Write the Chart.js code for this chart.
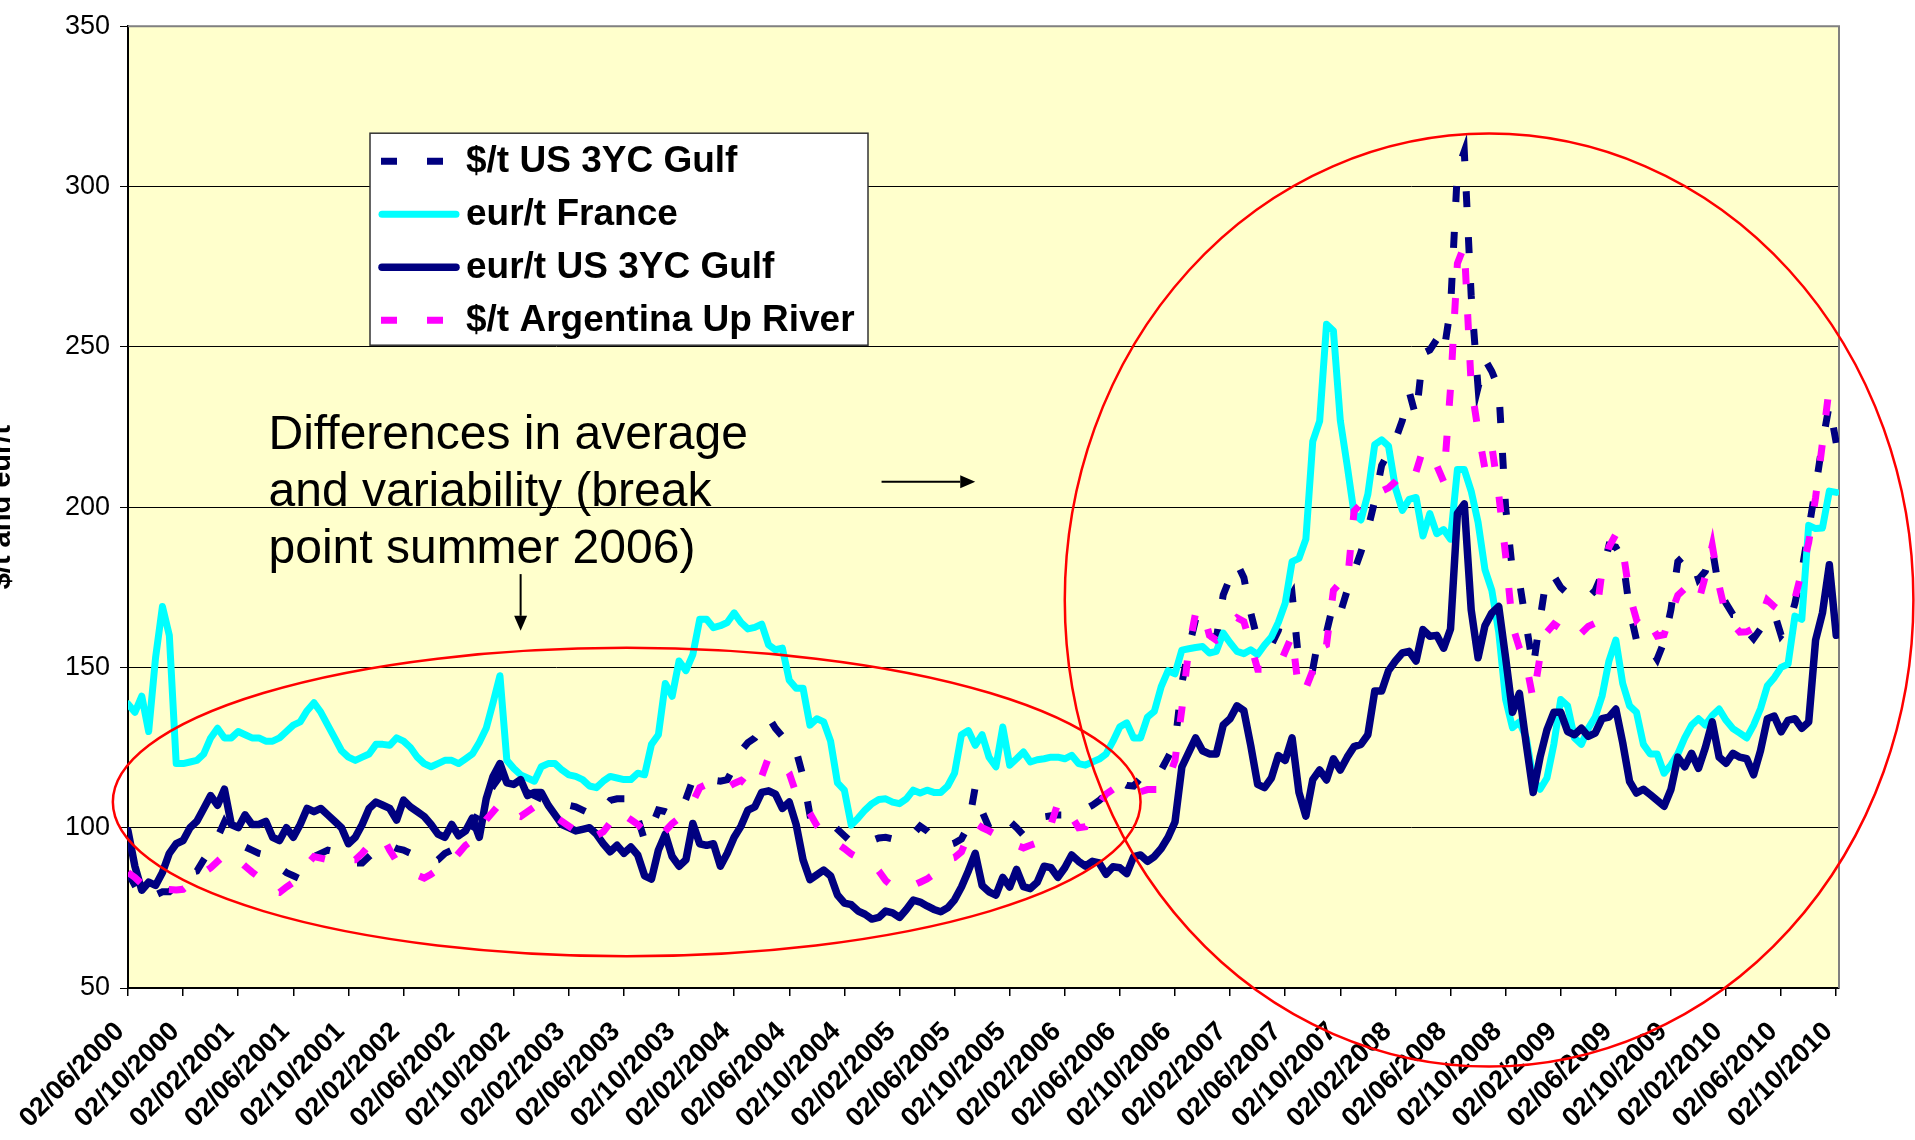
<!DOCTYPE html>
<html>
<head>
<meta charset="utf-8">
<script src="https://cdn.jsdelivr.net/npm/chart.js@4.4.1/dist/chart.umd.min.js"></script>
<style>
  html, body { margin: 0; padding: 0; background: #fff; overflow: hidden; }
  canvas { display: block; }
</style>
</head>
<body>
<canvas id="priceChart" width="1915" height="1140"></canvas>
<script>
// x = months since 02/06/2000, one reading every half month
const STEP = 0.5;

const tickLabels = [
  '02/06/2000', '02/10/2000', '02/02/2001', '02/06/2001', '02/10/2001', '02/02/2002',
  '02/06/2002', '02/10/2002', '02/02/2003', '02/06/2003', '02/10/2003', '02/02/2004',
  '02/06/2004', '02/10/2004', '02/02/2005', '02/06/2005', '02/10/2005', '02/02/2006',
  '02/06/2006', '02/10/2006', '02/02/2007', '02/06/2007', '02/10/2007', '02/02/2008',
  '02/06/2008', '02/10/2008', '02/02/2009', '02/06/2009', '02/10/2009', '02/02/2010',
  '02/06/2010', '02/10/2010'
];

const seriesNames = ['$/t US 3YC Gulf', 'eur/t France', 'eur/t US 3YC Gulf', '$/t Argentina Up River'];

const usGulfUsd = [
  86, 82, 78, 78, 79, 80, 80, 82,
  84, 86, 86.5, 90, 93, 97, 101.8, 98,
  95, 94, 93, 92, 91.5, 89, 87.5, 86,
  85, 84, 87, 91, 92, 93, 92.5, 91,
  90, 89, 89, 91, 93, 95, 94.5, 93.5,
  93, 92, 91, 90, 89.5, 90, 92, 93,
  94, 97, 101, 105, 109, 113, 116, 114,
  113, 112, 111, 110, 109, 108.6, 108, 107.5,
  107, 106.5, 105.5, 104.5, 104, 106, 108.5, 109,
  109, 109, 103, 96, 100, 105.5, 105, 104,
  104, 109, 115, 115, 115, 114.8, 114.5, 115,
  119, 124, 126.5, 128, 131, 134.4, 131, 128.5,
  128.5, 124, 116, 104, 104.3, 104, 101.5, 99.5,
  97.5, 95.5, 94.8, 95.5, 96, 96.8, 97, 96.5,
  96, 95.6, 98, 100.5, 99, 97, 95, 94.5,
  95.2, 96.5, 100.5, 112.7, 105, 100, 102.5, 104,
  102, 100, 97.7, 99.5, 101.5, 103.4, 103.7, 104,
  104, 104.5, 105, 105.8, 107, 108.5, 110.5, 112.5,
  114.3, 113.2, 113, 115.5, 115.2, 114.9, 118, 122,
  126.2, 145, 156, 165, 166, 160, 158.9, 172.6,
  178, 182.5, 178, 167, 158.5, 156.5, 157, 161.5,
  169.5, 173, 151.2, 150.6, 149.4, 161, 161, 170,
  167, 174, 180, 186, 193, 202, 213, 217,
  221, 227, 236, 228, 248, 249, 252.3, 248,
  262, 305, 311, 266, 237.3, 246, 242.3, 237,
  200, 180, 176.8, 163.2, 150, 165, 179, 178.5,
  175, 173, 172.3, 171.8, 171.8, 174, 179, 188,
  187.5, 184, 168, 158.5, 159, 156, 152.6, 158,
  168, 183, 185, 184, 177.5, 180, 187, 174.2,
  170, 166.5, 166.5, 161.5, 159, 162, 164.5, 167,
  160, 162.5, 170, 180, 193, 206, 220, 232,
  220
];

const franceEur = [
  138.6, 136, 141, 130, 153, 169, 160, 120,
  120, 120.5, 121, 123, 128, 131, 128, 128,
  130, 129, 128, 128, 127, 127, 128, 130,
  132, 133, 136.5, 139, 136, 132, 128, 124,
  122, 121, 122, 123, 126, 126, 125.7, 128,
  127, 125, 122, 120, 119, 120, 121, 121,
  120, 121.5, 123, 126.6, 131, 139, 147.4, 121,
  118.5, 116.5, 115.5, 114.5, 119, 120, 120, 118,
  116.5, 116, 115, 113, 112.5, 114.5, 116, 115.5,
  115, 115, 117, 116.5, 126, 129, 145, 141,
  152, 149, 154, 165, 165, 162.4, 163, 164,
  167, 164, 162, 162.5, 163.5, 157, 155.5, 156,
  146, 143.5, 143.5, 132, 134, 133, 127, 114,
  111.7, 100.8, 103, 105.5, 107.5, 108.8, 109, 108,
  107.5, 109, 111.7, 110.8, 111.7, 111, 111, 113,
  117, 129, 130.3, 125.7, 129, 122, 119, 131.4,
  119.5, 121.5, 123.6, 120.5, 121.2, 121.5, 122, 122,
  121.5, 122.6, 120, 119.5, 120.5, 121.4, 123, 127,
  131.5, 132.7, 128, 128, 134.5, 136.3, 144, 149,
  148, 155.4, 155.8, 156.2, 156.5, 154.5, 155, 160.7,
  157.7, 155, 154.3, 155.5, 154, 157, 159.5, 164,
  170, 183, 184, 190, 220.5, 226.8, 257, 255,
  227, 213, 198, 196, 204, 219.5, 221, 219,
  206, 199, 202.4, 203, 191, 198, 191.7, 193,
  190, 211.7, 211.7, 205, 195.3, 180.5, 174, 161,
  140, 131.2, 133, 128, 115, 112, 115.5, 126,
  140, 138, 128, 126, 131, 134.5, 141, 152,
  158.5, 145, 138, 136, 126, 123, 123, 117,
  119.6, 123, 128, 132, 134, 132, 135, 137,
  133.5, 130.9, 129.5, 128, 132, 137.1, 144.3, 146.8,
  150, 151, 166, 165, 194.3, 193.3, 193.5, 205,
  204.6
];

const usGulfEur = [
  99, 88, 80.5, 83, 82, 86, 92, 95,
  96, 100, 102, 106, 110, 107, 112, 101,
  100, 104, 101, 101, 102, 97, 96, 100,
  97, 101, 106, 105, 106, 104, 102, 100,
  95, 97, 101, 106, 108, 107, 106, 102.4,
  108.6, 106.5, 105, 103.5, 101, 98, 97, 101,
  97.5, 99, 103, 97, 109, 116, 120, 114,
  113.5, 115, 110, 111, 111, 107, 104, 101,
  100, 99, 99.5, 100, 98, 95, 92.5, 94.5,
  92, 94, 91.5, 85, 84, 93, 98, 91,
  88, 90, 101.3, 95, 94.5, 95, 88, 92,
  97, 100.5, 105.5, 106.5, 111, 111.5, 110.5, 106,
  108, 101, 90, 83.8, 85.3, 86.8, 85, 79,
  76.5, 76, 74, 73, 71.5, 72, 74, 73.4,
  72, 74.5, 77.4, 76.8, 75.6, 74.5, 73.8, 75,
  77.5, 81.5, 86.5, 92, 82, 80, 79, 84.5,
  81.5, 87, 81.6, 81, 83, 88, 87.5, 84.5,
  87.5, 91.5, 89.5, 88, 89.5, 89, 85.5, 87.8,
  87.5, 85.7, 91, 91.5, 89.5, 91, 93.5, 97,
  101.8, 119, 123.5, 128, 124, 123, 123, 132,
  134, 138, 136.5, 125.6, 113.5, 112.5, 115.5, 122.5,
  121, 128, 111, 103.6, 115, 118, 114.9, 121.5,
  118, 122, 125.3, 126, 129, 142.6, 142.6, 149,
  152, 154.5, 155, 152, 161.8, 159.7, 160, 156,
  162, 198, 201, 168, 153, 163, 167, 169,
  153, 136, 141.9, 126, 111, 122, 130.5, 136,
  136, 130, 129, 131, 128.5, 129.5, 134, 134.5,
  137, 126.5, 114.4, 110.8, 112, 110.3, 108.5, 106.7,
  111.9, 122, 119, 123.2, 118.5, 125, 133, 122,
  120.1, 123.2, 122, 121.5, 116.5, 124, 134, 134.8,
  129.9, 133.5, 134, 131, 133, 158.5, 167, 182,
  160
];

const argentinaUsd = [
  86, 84.5, 82.5, 81.3, 81, 80.8, 80.7, 80.6,
  80.8, 82.5, 84.5, 86, 87.5, 89.5, 91.5, 92,
  90, 88, 86.2, 84.5, 82, 80, 79.8, 81.5,
  83, 86, 88.5, 91, 90.5, 90, 89.5, 89.5,
  90, 90, 92, 94.5, 96.5, 97, 93, 89.5,
  88, 86.5, 85.2, 84.3, 85.5, 87, 88.5, 89.5,
  92, 94.5, 96, 99, 102.5, 105, 107.5, 106.5,
  104, 103.5, 105, 106.5, 106.5, 105, 103.5, 102,
  100.5, 99, 97, 96.5, 97.5, 98.7, 101.5, 105.5,
  104, 102.5, 101, 99, 97, 97, 99, 101.3,
  103, 104.3, 108, 112.5, 113.5, 112.5, 111.3, 112.5,
  113.8, 114.8, 113, 111.5, 116, 122, 121, 120.2,
  117, 110.7, 107.5, 104.5, 100.7, 98.5, 96.8, 95,
  93.5, 91.8, 90.7, 89.8, 88.8, 86.5, 83.5, 81.7,
  81.5, 81.3, 82, 83, 84, 85.5, 88, 90.2,
  90.7, 92.5, 97.5, 101.5, 100, 99, 97.8, 96.8,
  95.5, 94.5, 93.7, 94.5, 95.3, 96, 101, 107.7,
  107, 103.5, 100, 100.3, 104, 107.5, 110.5, 112,
  110.5, 110.1, 110.3, 111.2, 111.9, 111.9, 111.9, 115,
  121, 137, 156, 167, 168, 160, 158.5, 159.5,
  163.5, 165.5, 164.3, 157, 149.4, 149.4, 149, 150,
  155, 160, 142, 143.5, 149, 156.2, 157.1, 174,
  176.5, 176, 198.8, 201, 203, 204.5, 205, 206,
  208, 210.5, 213.1, 211, 218, 216, 213, 208,
  237, 276, 281.5, 238, 223.8, 212, 219, 204,
  185, 163, 156, 151, 140, 153.5, 161, 163.5,
  162, 160.6, 158.6, 160.7, 162.8, 163.8, 180, 187.5,
  191.5, 187, 172.5, 164.9, 167.2, 163.6, 159.8, 160.2,
  166.8, 172.5, 174.5, 173.8, 170.4, 178.5, 188, 175.4,
  166.2, 163.5, 161, 161.1, 162.2, 165, 171, 169,
  167.4, 167.5, 171.5, 180, 189, 203, 220, 237.6,
  238
];

// hand-drawn notes of the original, placed in data units
const ellipses = [
  { cx: 36.2, cy: 108, rx: 37.3, ry: 48.1 },
  { cx: 98.8, cy: 171, rx: 30.8, ry: 145.5 }
];
const arrows = [
  { x1: 54.7, y1: 207.9, x2: 61.5, y2: 207.9 },
  { x1: 28.5, y1: 179.1, x2: 28.5, y2: 161.4 }
];
const noteLines = ['Differences in average', 'and variability (break', 'point summer 2006)'];
const noteAnchor = { x: 10.2, y: 218.2 };

const FONT = "'Liberation Sans', Arial, sans-serif";

function toPoints(values) {
  return values.map((v, i) => ({ x: i * STEP, y: v }));
}

const chartExtras = {
  id: 'chartExtras',
  beforeDraw(chart) {
    const { ctx, chartArea: a } = chart;
    ctx.save();
    ctx.fillStyle = '#FFFFCC';
    ctx.fillRect(a.left, a.top, a.right - a.left, a.bottom - a.top);
    ctx.restore();
  },
  beforeDatasetsDraw(chart) {
    const { ctx, chartArea: a } = chart;
    ctx.save();
    ctx.strokeStyle = '#808080';
    ctx.lineWidth = 2;
    ctx.beginPath();
    ctx.moveTo(a.left, a.top);
    ctx.lineTo(a.right, a.top);
    ctx.lineTo(a.right, a.bottom);
    ctx.stroke();
    ctx.restore();
  },
  afterDraw(chart) {
    const { ctx, chartArea: a, scales: { x, y } } = chart;
    ctx.save();

    // red ellipses
    ctx.strokeStyle = '#FF0000';
    ctx.lineWidth = 2.5;
    ellipses.forEach(e => {
      const cx = x.getPixelForValue(e.cx);
      const cy = y.getPixelForValue(e.cy);
      const rx = Math.abs(x.getPixelForValue(e.cx + e.rx) - cx);
      const ry = Math.abs(y.getPixelForValue(e.cy + e.ry) - cy);
      ctx.beginPath();
      ctx.ellipse(cx, cy, rx, ry, 0, 0, Math.PI * 2);
      ctx.stroke();
    });

    // arrows
    ctx.strokeStyle = '#000';
    ctx.fillStyle = '#000';
    ctx.lineWidth = 2;
    arrows.forEach(ar => {
      const x1 = x.getPixelForValue(ar.x1), y1 = y.getPixelForValue(ar.y1);
      const x2 = x.getPixelForValue(ar.x2), y2 = y.getPixelForValue(ar.y2);
      const ang = Math.atan2(y2 - y1, x2 - x1);
      const head = 15, half = 6.5;
      const bx = x2 - head * Math.cos(ang), by = y2 - head * Math.sin(ang);
      ctx.beginPath();
      ctx.moveTo(x1, y1);
      ctx.lineTo(bx, by);
      ctx.stroke();
      ctx.beginPath();
      ctx.moveTo(x2, y2);
      ctx.lineTo(bx + half * Math.sin(ang), by - half * Math.cos(ang));
      ctx.lineTo(bx - half * Math.sin(ang), by + half * Math.cos(ang));
      ctx.closePath();
      ctx.fill();
    });

    // note text
    ctx.font = '48px ' + FONT;
    ctx.textAlign = 'left';
    ctx.textBaseline = 'alphabetic';
    const nx = x.getPixelForValue(noteAnchor.x);
    const ny = y.getPixelForValue(noteAnchor.y);
    noteLines.forEach((line, i) => ctx.fillText(line, nx, ny + i * 57));

    // legend box
    const lx = a.left + 242, ly = a.top + 107, lw = 498, lh = 212;
    ctx.fillStyle = '#fff';
    ctx.fillRect(lx, ly, lw, lh);
    ctx.strokeStyle = '#333';
    ctx.lineWidth = 1.5;
    ctx.strokeRect(lx, ly, lw, lh);
    ctx.font = 'bold 37px ' + FONT;
    ctx.textBaseline = 'middle';
    chart.data.datasets.forEach((ds, i) => {
      const ry = ly + 28 + i * 53;
      ctx.save();
      ctx.strokeStyle = ds.borderColor;
      ctx.lineWidth = ds.borderWidth;
      if (ds.borderDash) {
        ctx.setLineDash(ds.borderDash);
        ctx.lineCap = 'butt';
        ctx.beginPath();
        ctx.moveTo(lx + 11, ry);
        ctx.lineTo(lx + 88, ry);
      } else {
        ctx.lineCap = 'round';
        ctx.beginPath();
        ctx.moveTo(lx + 12, ry);
        ctx.lineTo(lx + 86, ry);
      }
      ctx.stroke();
      ctx.restore();
      ctx.fillStyle = '#000';
      ctx.fillText(ds.label, lx + 96, ry + 1);
    });

    // y axis title, mostly outside the canvas as in the original
    ctx.save();
    ctx.translate(10, (a.top + a.bottom) / 2);
    ctx.rotate(-Math.PI / 2);
    ctx.font = 'bold 29px ' + FONT;
    ctx.textAlign = 'center';
    ctx.textBaseline = 'alphabetic';
    ctx.fillStyle = '#000';
    ctx.fillText('$/t and eur/t', 0, 0);
    ctx.restore();

    ctx.restore();
  }
};

const ctx = document.getElementById('priceChart');

new Chart(ctx, {
  type: 'line',
  data: {
    datasets: [
      {
        label: seriesNames[0],
        data: toPoints(usGulfUsd),
        borderColor: '#000080',
        borderWidth: 7,
        borderDash: [16, 30],
        borderCapStyle: 'butt',
        order: 3
      },
      {
        label: seriesNames[1],
        data: toPoints(franceEur),
        borderColor: '#00FFFF',
        borderWidth: 7,
        borderJoinStyle: 'round',
        borderCapStyle: 'round',
        order: 2
      },
      {
        label: seriesNames[2],
        data: toPoints(usGulfEur),
        borderColor: '#000080',
        borderWidth: 7.5,
        borderJoinStyle: 'round',
        borderCapStyle: 'round',
        order: 1
      },
      {
        label: seriesNames[3],
        data: toPoints(argentinaUsd),
        borderColor: '#FF00FF',
        borderWidth: 7,
        borderDash: [16, 30],
        borderCapStyle: 'butt',
        order: 0
      }
    ]
  },
  options: {
    responsive: false,
    devicePixelRatio: 1,
    animation: false,
    elements: {
      point: { radius: 0, hoverRadius: 0 },
      line: { tension: 0, fill: false }
    },
    layout: {
      padding: { left: 0, top: 21, right: 76, bottom: 0 }
    },
    scales: {
      x: {
        type: 'linear',
        min: 0,
        max: 124.2,
        afterBuildTicks: (scale) => {
          scale.ticks = tickLabels.map((_, i) => ({ value: i * 4 }));
        },
        afterFit: (scale) => { scale.height = 152; },
        grid: {
          drawOnChartArea: false,
          drawTicks: true,
          tickLength: 8,
          tickColor: '#000',
          lineWidth: 1.5
        },
        border: { color: '#000', width: 2 },
        ticks: {
          autoSkip: false,
          maxRotation: 45,
          minRotation: 45,
          padding: 20,
          labelOffset: -8,
          color: '#000',
          font: { family: FONT, size: 27, weight: 'bold' },
          callback: (value) => tickLabels[Math.round(value / 4)] || ''
        }
      },
      y: {
        min: 50,
        max: 350,
        afterFit: (scale) => { scale.width = 128; },
        grid: {
          color: (c) => (c.tick && c.tick.value === 350 ? '#808080' : '#000'),
          lineWidth: 1,
          drawTicks: true,
          tickLength: 8,
          tickColor: '#000'
        },
        border: { color: '#000', width: 2 },
        ticks: {
          stepSize: 50,
          padding: 10,
          color: '#000',
          font: { family: FONT, size: 27 }
        }
      }
    },
    plugins: {
      legend: { display: false },
      tooltip: { enabled: false }
    }
  },
  plugins: [chartExtras]
});
</script>
</body>
</html>
